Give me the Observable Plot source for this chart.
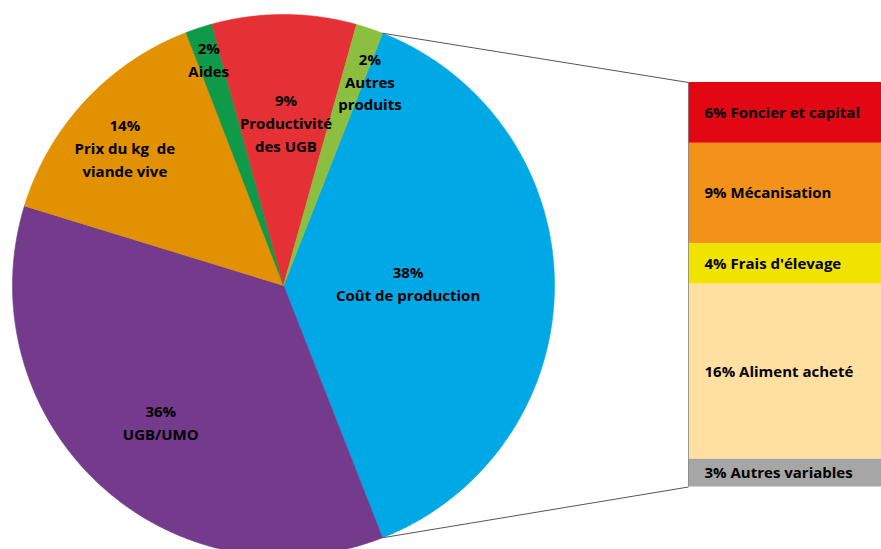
<!DOCTYPE html>
<html>
<head>
<meta charset="utf-8">
<script src="https://cdn.jsdelivr.net/npm/d3@7"></script>
<script src="https://cdn.jsdelivr.net/npm/@observablehq/plot@0.6"></script>
<style>
  html, body { margin: 0; padding: 0; background: #ffffff; }
  #chart svg { display: block; }
</style>
</head>
<body>
<div id="chart"></div>
<script>
// ---- Data ----
const sliceNames = ["Coût de production", "UGB/UMO", "Prix du kg  de viande vive", "Aides", "Productivité des UGB", "Autres produits"];
const sliceLines = [["Coût de production"], ["UGB/UMO"], ["Prix du kg  de", "viande vive"], ["Aides"], ["Productivité", "des UGB"], ["Autres", "produits"]];
const sliceValues = [38.1, 35.7, 14.4, 1.6, 8.6, 1.6];
const sliceColors = ["#00a8e6", "#743a8c", "#e29100", "#0e9a48", "#e53036", "#8cbf3f"];

const costNames = ["Foncier et capital", "Mécanisation", "Frais d'élevage", "Aliment acheté", "Autres variables"];
const costValues = [5.7, 9.4, 3.8, 16.4, 2.6];
const costColors = ["#e30613", "#f29219", "#f0e300", "#ffe0a0", "#a6a6a6"];

// ---- Layout ----
const W = 881, H = 549;
const cx = 283, cy = 285, R = 271, startDeg = 21.4;
const labelLayout = [
  {rf: 0.46, da: -1.4}, {rf: 0.674, da: -0.6}, {rf: 0.778, da: -1.8},
  {rf: 0.884, da: 0}, {rf: 0.605, da: 0.7}, {rf: 0.822, da: 4.3}
];
const bar = {x0: 688, x1: 881, top: 82, bottom: 486.5, textX: 704};
const font = "'Open Sans', sans-serif";
const fs = 15;

const rad = d => d * Math.PI / 180;
const px = (a, r) => cx + r * Math.sin(rad(a));
const py = (a, r) => cy - r * Math.cos(rad(a));

// pie angles
const total = d3.sum(sliceValues);
let acc = startDeg;
const slices = sliceValues.map((v, i) => {
  const a0 = acc, a1 = acc + v / total * 360;
  acc = a1;
  return {name: sliceNames[i], value: v, a0, a1, color: sliceColors[i], i};
});

const piePts = [];
for (const s of slices) {
  piePts.push({name: s.name, x: cx, y: cy, color: s.color});
  const n = Math.max(4, Math.ceil((s.a1 - s.a0) / 0.4));
  for (let k = 0; k <= n; k++) {
    const a = s.a0 + (s.a1 - s.a0) * k / n;
    piePts.push({name: s.name, x: px(a, R), y: py(a, R), color: s.color});
  }
}

const pieLabels = slices.map(s => {
  const L = labelLayout[s.i];
  const a = (s.a0 + s.a1) / 2 + L.da;
  return {
    x: px(a, R * L.rf), y: py(a, R * L.rf),
    text: Math.round(s.value) + "%\n" + sliceLines[s.i].join("\n")
  };
});

// stacked cost bar
const costTotal = d3.sum(costValues);
const unit = (bar.bottom - bar.top) / costTotal;
let c = 0;
const costRects = costValues.map((v, i) => {
  const y1 = bar.top + c * unit;
  c += v;
  const y2 = bar.top + c * unit;
  return {name: costNames[i], y1, y2, ym: (y1 + y2) / 2, color: costColors[i],
          text: Math.round(v) + "% " + costNames[i]};
});

const blue = slices[0];
const links = [
  {x1: px(blue.a0, R), y1: py(blue.a0, R), x2: bar.x0, y2: bar.top},
  {x1: px(blue.a1, R), y1: py(blue.a1, R), x2: bar.x0, y2: bar.bottom}
];

const chart = Plot.plot({
  width: W, height: H,
  margin: 0,
  x: {domain: [0, W], range: [0, W], axis: null},
  y: {domain: [0, H], range: [0, H], axis: null},
  style: {background: "#ffffff", fontFamily: font},
  marks: [
    Plot.line(piePts, {x: "x", y: "y", z: "name", fill: "color", stroke: "color", strokeWidth: 0.6, curve: "linear-closed"}),
    Plot.link(links, {x1: "x1", y1: "y1", x2: "x2", y2: "y2", stroke: "#555555", strokeWidth: 1}),
    Plot.rect(costRects, {x1: bar.x0, x2: bar.x1, y1: "y1", y2: "y2", fill: "color"}),
    Plot.ruleX([bar.x0], {y1: bar.top, y2: bar.bottom, stroke: "#888888", strokeWidth: 0.8}),
    Plot.text(costRects, {x: bar.textX, y: "ym", text: "text", textAnchor: "start", fill: "#000000",
      fontSize: fs, fontWeight: 700, fontFamily: font}),
    Plot.text(pieLabels, {x: "x", y: "y", text: "text", textAnchor: "middle", lineAnchor: "middle",
      lineHeight: 1.53, fill: "#000000", fontSize: fs, fontWeight: 700, fontFamily: font})
  ]
});
document.getElementById("chart").appendChild(chart);
</script>
</body>
</html>
